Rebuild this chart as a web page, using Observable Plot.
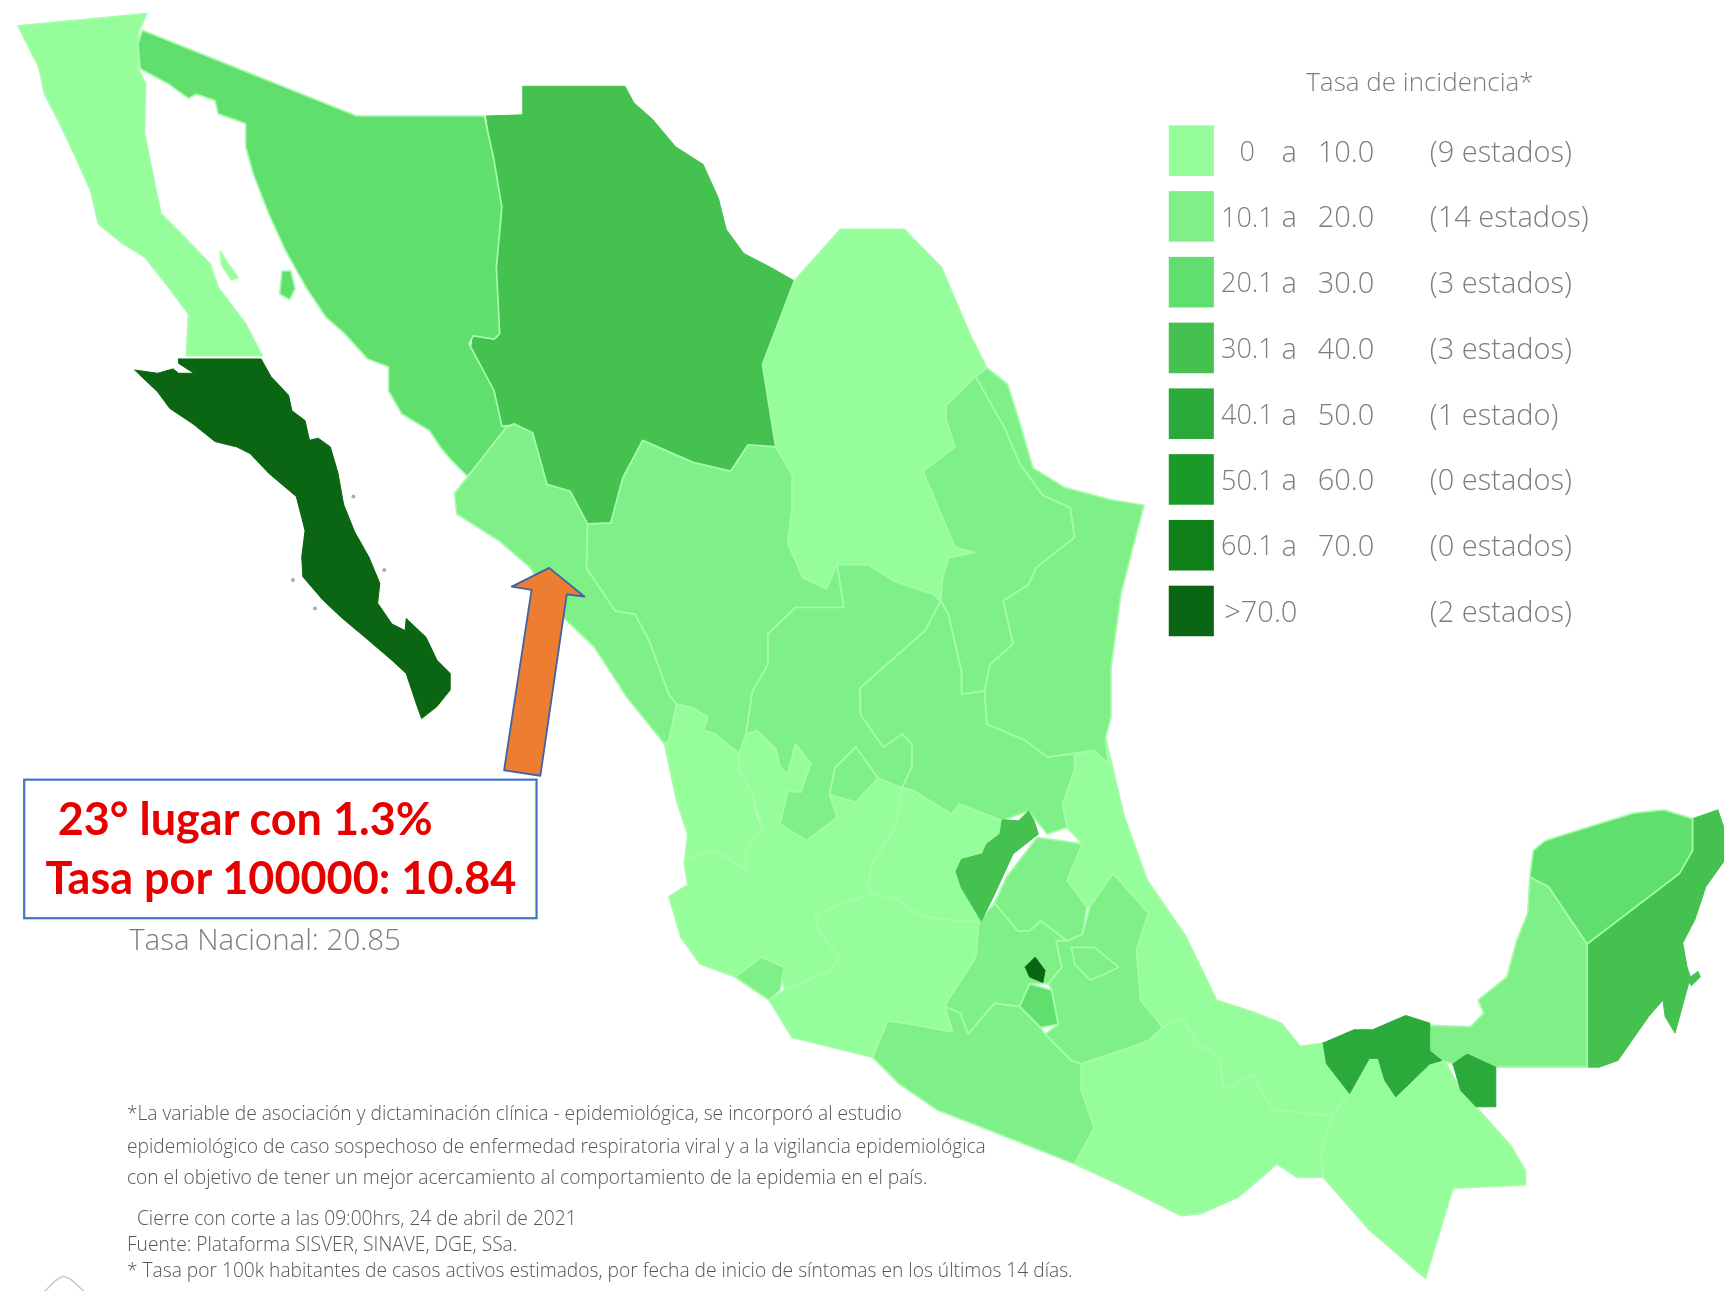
<!DOCTYPE html>
<html lang="es">
<head>
<meta charset="utf-8">
<title>Tasa de incidencia por estado</title>
<script src="https://cdn.jsdelivr.net/npm/d3@7"></script>
<script src="https://cdn.jsdelivr.net/npm/@observablehq/plot@0.6"></script>
<style>
html,body{margin:0;padding:0;background:#fff;overflow:hidden}
svg{display:block}
#chart svg{filter:blur(.6px)}
</style>
</head>
<body>
<div id="chart"></div>
<script>
// ---- Legend data ----
const classLabels = ["0-10","10.1-20","20.1-30","30.1-40","40.1-50","50.1-60","60.1-70",">70"];
const classColors = ["#96fd9b","#7ff087","#60df6e","#44c14f","#2ca93b","#1c9a29","#0f7f1a","#0b6613"];
const legendLow = ["0","10.1","20.1","30.1","40.1","50.1","60.1"];
const legendOpen = [">70.0"];
const legendHigh = ["10.0","20.0","30.0","40.0","50.0","60.0","70.0"];
const legendCount = ["(9 estados)","(14 estados)","(3 estados)","(3 estados)","(1 estado)","(0 estados)","(0 estados)","(2 estados)"];

// ---- Footnotes ----
const notes = [
 "*La variable de asociación y dictaminación clínica - epidemiológica, se incorporó al estudio",
 "epidemiológico de caso sospechoso de enfermedad respiratoria viral y a la vigilancia epidemiológica",
 "con el objetivo de tener un mejor acercamiento al comportamiento de la epidemia en el país.",
 "  Cierre con corte a las 09:00hrs, 24 de abril de 2021",
 "Fuente: Plataforma SISVER, SINAVE, DGE, SSa.",
 "* Tasa por 100k habitantes de casos activos estimados, por fecha de inicio de síntomas en los últimos 14 días."
];

// ---- State outlines (map units) ----
const bajaCalifornia = [[16,23],[133,12],[125,30],[125,61],[132,76],[131,121],[141,170],[146,194],[167,215],[191,240],[198,261],[223,294],[238,323],[169,323],[171,285],[153,261],[131,233],[111,221],[89,203],[82,173],[70,146],[54,112],[40,85],[35,61]];
const angelIsland = [[200,228],[206,238],[216,252],[210,254],[201,240]];
const bajaSur = [[162,326],[237,326],[246,342],[262,359],[265,373],[277,382],[281,400],[289,398],[300,406],[307,430],[312,458],[322,483],[335,506],[345,530],[343,548],[356,567],[368,573],[369,562],[387,579],[397,600],[409,612],[409,627],[397,642],[383,653],[378,639],[369,612],[356,600],[335,582],[310,561],[293,545],[275,524],[274,506],[277,482],[269,451],[244,430],[227,412],[215,406],[195,401],[175,385],[154,371],[143,356],[122,336],[143,339],[157,335],[162,339],[176,339],[162,330]];
const bajaSurIslands = [[321,451],[349,518],[286,553],[266,527]];
const sonora = [[129,27],[324,105],[440,105],[449,146],[456,188],[451,243],[454,303],[449,308],[430,305],[426,312],[449,355],[456,387],[462,388],[425,433],[410,418],[400,406],[390,391],[365,376],[353,355],[353,333],[334,326],[313,303],[296,288],[278,261],[259,227],[244,194],[230,158],[223,133],[223,112],[198,103],[195,91],[178,85],[171,89],[153,76],[127,62],[125,39]];
const tiburon = [[256,246],[264,246],[268,262],[263,272],[254,267]];
const chihuahua = [[442,105],[475,104],[475,78],[568,78],[576,93],[593,108],[614,133],[639,149],[653,180],[660,208],[676,230],[701,243],[722,255],[693,331],[705,406],[680,404],[664,428],[630,420],[584,400],[566,434],[555,475],[534,476],[518,446],[497,440],[484,393],[467,385],[451,387],[447,359],[428,318],[430,305],[453,307],[451,259],[455,193],[449,152]];
const sinaloa = [[467,385],[484,393],[497,440],[518,446],[534,476],[533,516],[559,555],[577,558],[590,582],[608,631],[615,640],[608,673],[604,676],[570,634],[540,588],[512,561],[481,515],[453,491],[415,467],[413,448],[425,433],[460,388]];
const durango = [[534,476],[555,475],[566,434],[584,400],[630,420],[664,428],[680,404],[705,406],[720,431],[720,462],[716,494],[730,525],[751,535],[761,513],[767,552],[723,552],[698,576],[698,604],[684,628],[678,667],[672,685],[664,679],[650,667],[639,664],[643,652],[629,643],[615,640],[608,631],[590,582],[577,558],[559,555],[533,516]];
const coahuila = [[764,208],[822,208],[856,243],[881,302],[897,334],[889,342],[860,368],[860,381],[868,406],[839,428],[852,459],[868,497],[886,502],[862,507],[855,546],[848,540],[813,528],[789,513],[761,513],[751,535],[730,525],[716,494],[720,462],[720,431],[705,406],[693,331],[722,255]];
const nuevoLeon = [[887,342],[914,390],[927,421],[948,450],[973,461],[977,488],[942,516],[935,531],[912,546],[921,585],[900,604],[895,628],[874,631],[874,610],[862,558],[855,546],[857,525],[862,507],[886,502],[868,497],[852,459],[839,428],[868,406],[860,381],[860,368]];
const tamaulipas = [[897,334],[916,349],[927,384],[939,425],[968,443],[1010,454],[1040,459],[1031,493],[1019,540],[1010,607],[1010,652],[1005,670],[1008,694],[994,682],[952,688],[932,673],[897,658],[895,628],[900,604],[921,585],[912,546],[935,531],[942,516],[977,488],[973,461],[948,450],[927,421],[914,390],[887,342]];
const zacatecas = [[761,513],[789,513],[813,528],[848,540],[855,546],[841,573],[782,625],[782,649],[803,679],[820,667],[829,676],[829,697],[820,716],[798,707],[778,679],[759,698],[754,722],[761,743],[733,764],[709,749],[716,719],[728,720],[737,694],[723,676],[716,704],[709,697],[705,680],[688,664],[678,667],[684,628],[698,604],[698,576],[723,552],[767,552]];
const aguascalientes = [[778,679],[798,707],[778,729],[754,722],[759,698]];
const sanLuis = [[855,546],[862,558],[874,610],[874,631],[895,628],[897,658],[932,673],[952,688],[977,685],[977,700],[966,731],[970,752],[952,758],[935,737],[911,746],[872,731],[865,740],[831,719],[820,716],[829,697],[829,676],[820,667],[803,679],[782,649],[782,625],[841,573]];
const queretaro = [[935,737],[940,746],[944,758],[921,776],[904,813],[892,837],[874,807],[869,792],[874,781],[893,776],[897,767],[909,758],[911,745],[926,746]];
const hidalgo = [[943,761],[984,767],[970,800],[988,824],[984,849],[970,855],[946,837],[936,846],[925,846],[904,821],[915,797]];
const guanajuato = [[820,716],[831,719],[865,740],[872,731],[911,746],[909,758],[897,767],[893,776],[874,781],[869,792],[874,807],[892,837],[869,837],[845,834],[828,827],[817,818],[793,812],[789,803],[793,785],[814,752]];
const nayarit = [[615,640],[629,643],[643,652],[639,664],[650,667],[664,679],[672,685],[672,700],[684,722],[688,743],[693,752],[678,773],[678,791],[650,773],[627,779],[622,785],[625,758],[615,728],[604,676],[608,673]];
const jalisco = [[693,752],[684,722],[672,700],[672,685],[678,667],[688,664],[705,680],[709,697],[716,704],[723,676],[737,694],[728,720],[716,719],[709,749],[733,764],[761,743],[754,722],[778,729],[798,707],[820,716],[814,752],[793,785],[789,803],[793,812],[741,831],[744,846],[763,870],[755,882],[713,900],[709,879],[692,870],[668,888],[636,876],[619,852],[608,815],[625,804],[622,785],[627,779],[650,773],[678,791],[678,773]];
const colima = [[668,888],[692,870],[713,879],[709,900],[699,909]];
const michoacan = [[741,831],[793,812],[817,818],[828,827],[845,834],[869,837],[890,837],[887,870],[862,909],[859,915],[866,938],[828,931],[807,928],[793,961],[720,943],[699,909],[713,900],[755,882],[763,870],[744,846]];
const estadoMexico = [[890,837],[904,821],[925,846],[936,846],[946,837],[970,855],[960,855],[965,879],[953,894],[936,894],[927,915],[904,912],[880,940],[873,921],[859,915],[862,909],[887,870]];
const cdmx = [[932,879],[941,870],[950,882],[948,893],[936,888]];
const morelos = [[936,894],[956,900],[962,931],[946,934],[927,915]];
const tlaxcala = [[974,861],[995,861],[1017,879],[1005,885],[991,891],[977,876]];
const puebla = [[984,849],[970,855],[960,855],[965,879],[953,894],[956,900],[962,931],[950,940],[974,964],[983,967],[1019,955],[1044,946],[1057,934],[1037,909],[1033,864],[1044,830],[1012,794],[991,824]];
const veracruz = [[1008,694],[1005,670],[1022,742],[1043,800],[1078,851],[1106,909],[1140,920],[1165,930],[1182,951],[1203,948],[1206,967],[1227,994],[1211,1014],[1158,1009],[1144,988],[1140,976],[1112,991],[1109,961],[1089,949],[1075,925],[1057,934],[1037,909],[1033,864],[1044,830],[1012,794],[991,824],[988,824],[970,800],[984,767],[970,752],[966,731],[977,700],[977,685],[994,682]];
const oaxaca = [[983,967],[1019,955],[1044,946],[1057,934],[1075,925],[1089,949],[1109,961],[1112,991],[1140,976],[1144,988],[1158,1009],[1211,1014],[1201,1049],[1203,1070],[1179,1070],[1161,1058],[1126,1088],[1092,1103],[1074,1105],[1046,1091],[1022,1079],[977,1058],[995,1025],[983,991]];
const guerrero = [[793,961],[807,928],[828,931],[866,938],[859,915],[873,921],[880,940],[904,912],[927,915],[946,934],[950,940],[974,964],[983,967],[983,991],[995,1025],[977,1058],[939,1043],[901,1028],[852,1009],[817,985]];
const chiapas = [[1211,1014],[1227,994],[1245,962],[1253,962],[1259,982],[1269,997],[1300,967],[1314,965],[1328,991],[1342,1006],[1374,1042],[1387,1064],[1387,1077],[1321,1080],[1296,1162],[1245,1118],[1203,1070],[1201,1049]];
const tabascoWest = [[1203,948],[1231,936],[1248,936],[1278,923],[1300,930],[1300,955],[1311,964],[1300,967],[1269,997],[1259,982],[1253,962],[1245,962],[1227,994],[1206,967]];
const tabascoEast = [[1321,967],[1334,958],[1360,970],[1360,1006],[1342,1006],[1328,991]];
const campeche = [[1391,797],[1408,806],[1443,858],[1443,970],[1360,970],[1334,958],[1321,967],[1311,964],[1300,955],[1300,932],[1337,933],[1349,921],[1344,909],[1370,888],[1379,855],[1389,830]];
const yucatan = [[1394,773],[1405,764],[1440,753],[1485,739],[1513,736],[1539,744],[1539,773],[1527,794],[1443,858],[1408,806],[1391,797]];
const quintanaRoo = [[1539,744],[1562,736],[1568,754],[1568,782],[1551,806],[1541,836],[1530,857],[1534,879],[1537,888],[1523,939],[1514,924],[1512,909],[1499,924],[1471,964],[1454,970],[1443,970],[1443,858],[1527,794],[1539,773]];
const cozumel = [[1534,890],[1544,883],[1546,888],[1538,896]];

// ---- Which class each state falls in; paint order bottom to top ----
const darkBase = [["Chihuahua","30.1-40",chihuahua],["Quintana Roo","30.1-40",quintanaRoo],["Cozumel","30.1-40",cozumel]];
const lightStates = [
 ["Baja California","0-10",bajaCalifornia],["Isla Ángel","0-10",angelIsland],["Sonora","20.1-30",sonora],["Isla Tiburón","20.1-30",tiburon],
 ["Coahuila","0-10",coahuila],["Sinaloa","10.1-20",sinaloa],["Durango","10.1-20",durango],["Nuevo León","10.1-20",nuevoLeon],
 ["Tamaulipas","10.1-20",tamaulipas],["Nayarit","0-10",nayarit],["Jalisco","0-10",jalisco],["Zacatecas","10.1-20",zacatecas],
 ["Aguascalientes","10.1-20",aguascalientes],["San Luis Potosí","10.1-20",sanLuis],["Guanajuato","0-10",guanajuato],
 ["Colima","10.1-20",colima],["Michoacán","0-10",michoacan],["Veracruz","0-10",veracruz],["Puebla","10.1-20",puebla],
 ["Hidalgo","10.1-20",hidalgo],["Estado de México","10.1-20",estadoMexico],["Morelos","20.1-30",morelos],["Tlaxcala","10.1-20",tlaxcala],
 ["Guerrero","10.1-20",guerrero],["Oaxaca","0-10",oaxaca],["Chiapas","0-10",chiapas],["Campeche","10.1-20",campeche],["Yucatán","20.1-30",yucatan]
];
const darkTop = [["Baja California Sur",">70",bajaSur],["Querétaro","30.1-40",queretaro],["Ciudad de México",">70",cdmx],["Tabasco","40.1-50",tabascoWest],["Tabasco (este)","40.1-50",tabascoEast]];

// ---- Annotation outlines ----
const arrowShape = [[499,516],[531,542],[515,540],[491,705],[458,700],[483,536],[465,533]];
const logoArc = [[40,1174],[50,1164],[57,1160],[64,1163],[76,1174]];
const calloutLines = ["23° lugar con 1.3%","Tasa por 100000: 10.84"];

const toVerts = rows => rows.flatMap(([id,cls,pts]) => [...pts,pts[0]].map(([x,y]) => ({id,cls,x,y})));
const closed = pts => [...pts,pts[0]].map(([x,y]) => ({x,y}));
const grey = "#7d7d7d", pale = "#a6fcab", uiFont = "'Open Sans',sans-serif";
const legendX = {swatch0:1063,swatch1:1104,low:1158,a:1172,high:1198,count:1300};
const rowY = i => 138 + i*59.8;
const legendStyle = {fontFamily:uiFont,fontWeight:300,fontSize:29,fill:grey};

const chart = Plot.plot({
  width:1724,height:1291,margin:0,
  style:{background:"#fff"},
  x:{axis:null,domain:[0,1568],range:[0,1724]},
  y:{axis:null,domain:[0,1174],range:[0,1291]},
  color:{type:"ordinal",domain:classLabels,range:classColors},
  marks:[
    Plot.line(toVerts(darkBase),{x:"x",y:"y",z:"id",fill:"cls",stroke:"cls",strokeWidth:1,curve:"linear"}),
    Plot.line(toVerts(lightStates),{x:"x",y:"y",z:"id",fill:"cls",stroke:pale,strokeWidth:1.7,curve:"linear"}),
    Plot.line(toVerts(darkTop),{x:"x",y:"y",z:"id",fill:"cls",stroke:"cls",strokeWidth:1,curve:"linear"}),
    Plot.dot(bajaSurIslands,{x:d=>d[0],y:d=>d[1],r:2,fill:"#9fb5a0",stroke:"none"}),
    // legend
    Plot.rect(classLabels,{x1:legendX.swatch0,x2:legendX.swatch1,y1:(d,i)=>137+i*59.8-23,y2:(d,i)=>137+i*59.8+23,fill:d=>d}),
    Plot.text(["Tasa de incidencia*"],{x:1291,y:75,text:d=>d,fontFamily:uiFont,fontWeight:300,fontSize:26,fill:grey}),
    Plot.text(legendLow,{x:(d,i)=>i===0?1141:legendX.low,y:(d,i)=>rowY(i),text:d=>d,textAnchor:"end",...legendStyle,fontSize:27}),
    Plot.text(legendOpen,{x:1113,y:()=>rowY(7),text:d=>d,textAnchor:"start",...legendStyle}),
    Plot.text(legendHigh,{x:legendX.high,y:(d,i)=>rowY(i),text:d=>d,textAnchor:"start",...legendStyle}),
    Plot.text(legendLow,{x:legendX.a,y:(d,i)=>rowY(i),text:()=>"a",...legendStyle}),
    Plot.text(legendCount,{x:legendX.count,y:(d,i)=>rowY(i),text:d=>d,textAnchor:"start",...legendStyle}),
    // national rate
    Plot.text(["Tasa Nacional: 20.85"],{x:117,y:855,text:d=>d,textAnchor:"start",fontFamily:uiFont,fontWeight:300,fontSize:29.5,fill:grey}),
    // footnotes
    Plot.text(notes,{x:115,y:(d,i)=>[1012,1042,1071,1108,1132,1155][i],text:d=>d,textAnchor:"start",fontFamily:uiFont,fontWeight:300,fontSize:19.2,fill:"#555"}),
    Plot.line(logoArc.map(([x,y])=>({x,y})),{x:"x",y:"y",stroke:"#c8c8c8",strokeWidth:1.5}),
    // callout
    Plot.rect([0],{x1:22,x2:488,y1:709,y2:835,fill:"#fff",stroke:"#4472c4",strokeWidth:2.2}),
    Plot.text([calloutLines[0]],{x:52,y:746,text:d=>d,textAnchor:"start",fontFamily:"Lato,sans-serif",fontWeight:700,fontSize:45,fill:"#e60000"}),
    Plot.text([calloutLines[1]],{x:41,y:799,text:d=>d,textAnchor:"start",fontFamily:"Lato,sans-serif",fontWeight:700,fontSize:45,fill:"#e60000"}),
    Plot.line(closed(arrowShape),{x:"x",y:"y",fill:"#ed7d31",stroke:"#3f63a8",strokeWidth:1.8,curve:"linear"})
  ]
});
document.getElementById("chart").append(chart);
</script>
</body>
</html>
